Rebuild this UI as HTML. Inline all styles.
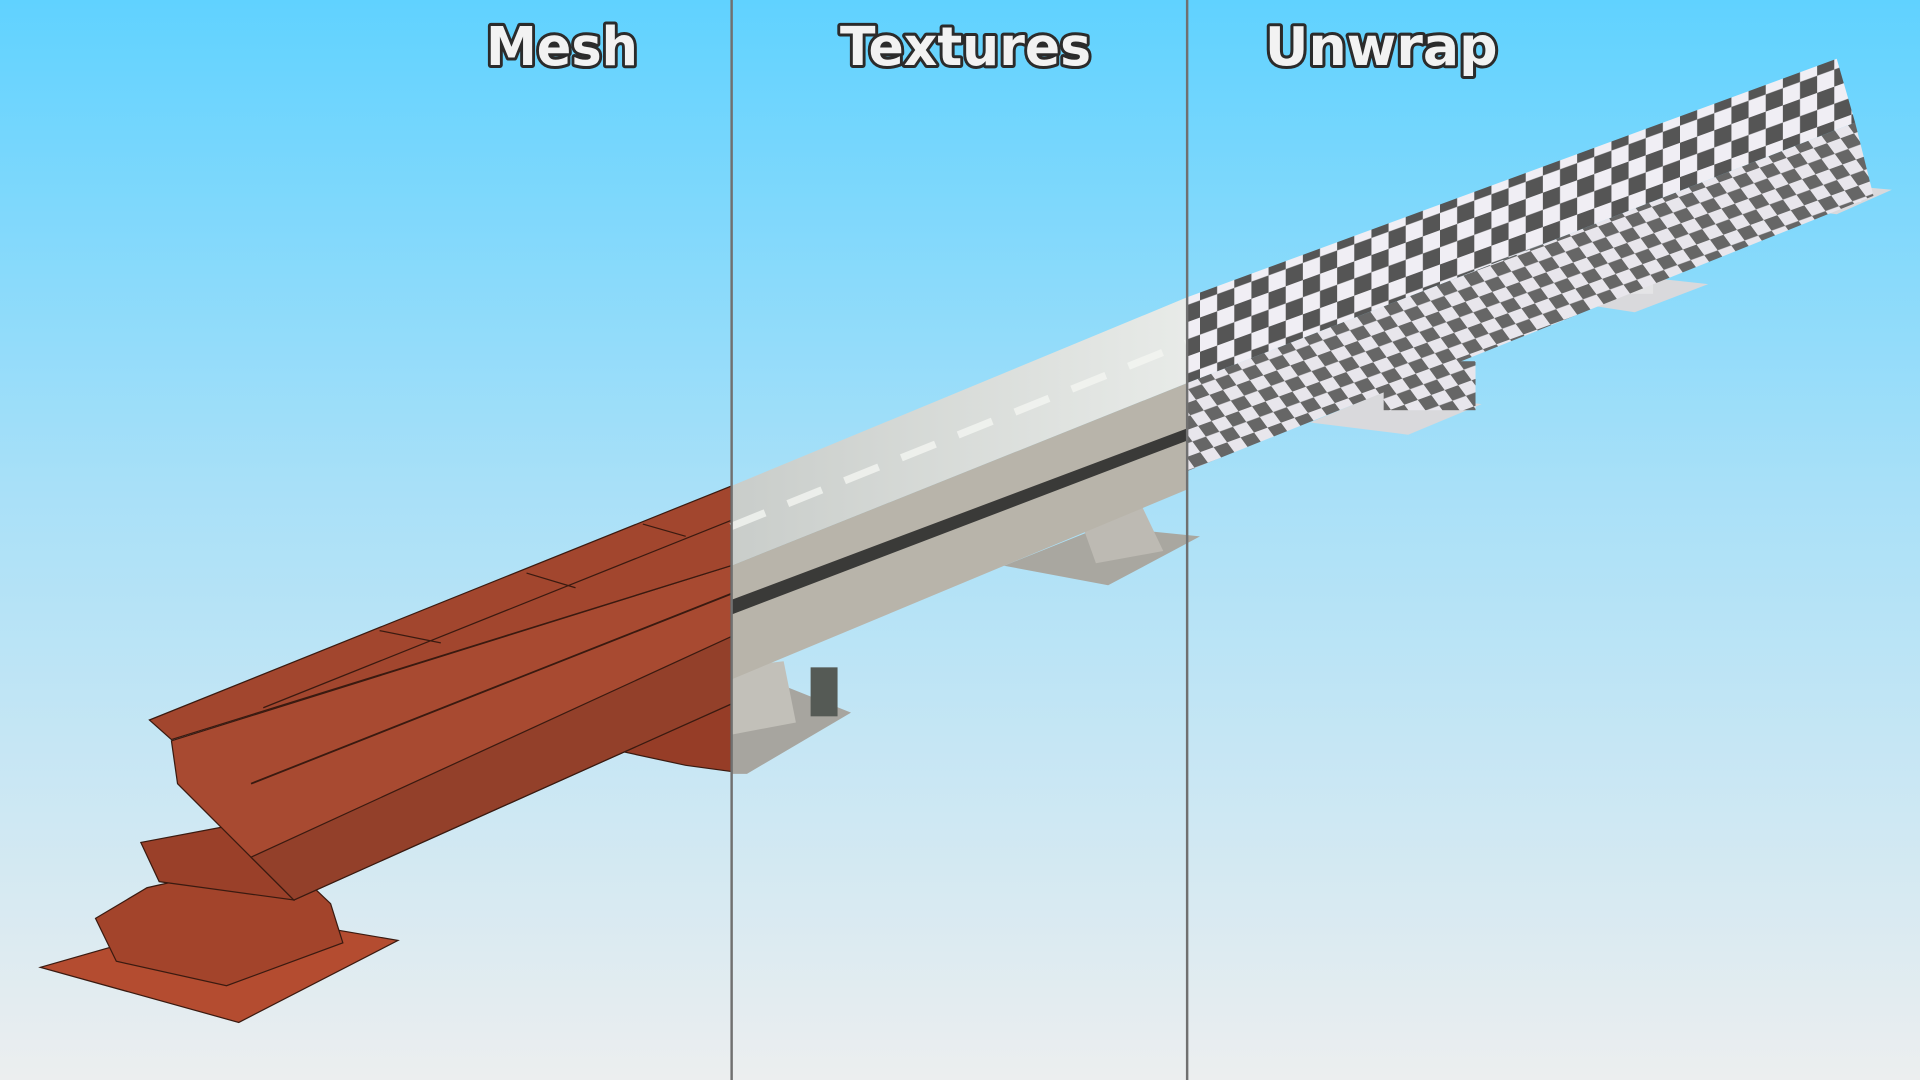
<!DOCTYPE html>
<html><head><meta charset="utf-8"><style>
html,body{margin:0;padding:0;width:1920px;height:1080px;overflow:hidden}
svg{display:block}
</style></head><body>
<svg width="1920" height="1080" viewBox="0 0 1568 882" preserveAspectRatio="none" xmlns="http://www.w3.org/2000/svg">
<defs>
<linearGradient id="bg" x1="0" y1="0" x2="0" y2="1">
<stop offset="0" stop-color="#60d2ff"/>
<stop offset="0.45" stop-color="#a8e0f8"/>
<stop offset="1" stop-color="#eceeef"/>
</linearGradient>
<pattern id="chk" width="28" height="28" patternUnits="userSpaceOnUse" patternTransform="skewY(-20)">
<rect width="28" height="28" fill="#f0eef4"/>
<rect width="14" height="14" fill="#555"/>
<rect x="14" y="14" width="14" height="14" fill="#555"/>
</pattern>
<pattern id="chk2" width="22" height="22" patternUnits="userSpaceOnUse" patternTransform="skewY(-20) skewX(30)">
<rect width="22" height="22" fill="#e8e6ec"/>
<rect width="11" height="11" fill="#666"/>
<rect x="11" y="11" width="11" height="11" fill="#666"/>
</pattern>
<linearGradient id="texTop" x1="0" y1="0" x2="1" y2="0">
<stop offset="0" stop-color="#c9cdca"/><stop offset="1" stop-color="#e8ebe8"/>
</linearGradient>
</defs>
<rect width="1568" height="882" fill="url(#bg)"/>

<!-- MESH -->
<polygon points="33,790 190,745 325,768 195,835" fill="#b44c30" stroke="#3a1a10" stroke-width="1"/>
<polygon points="78,750 120,725 230,700 270,738 280,770 185,805 95,785" fill="#a3442b" stroke="#3a1a10" stroke-width="1"/>
<polygon points="115,688 200,672 240,735 130,720" fill="#9a4029" stroke="#3a1a10" stroke-width="1"/>
<polygon points="500,612 597,575 597,630 560,625" fill="#963d27" stroke="#3a1a10" stroke-width="1"/>
<polygon points="140,605 597,462 597,575 240,735 205,700 145,640" fill="#a84a31" stroke="#3a1a10" stroke-width="1"/>
<polygon points="205,700 597,520 597,575 240,735" fill="#93402a" stroke="#3a1a10" stroke-width="1"/>
<polygon points="122,588 597,397 597,462 140,604" fill="#a2462e" stroke="#3a1a10" stroke-width="1"/>
<line x1="215" y1="578" x2="597" y2="425" stroke="#3a1a10" stroke-width="1"/>
<line x1="205" y1="640" x2="597" y2="485" stroke="#3a1a10" stroke-width="1.5"/>
<line x1="310" y1="515" x2="360" y2="525" stroke="#3a1a10"/>
<line x1="430" y1="468" x2="470" y2="480" stroke="#3a1a10"/>
<line x1="525" y1="428" x2="560" y2="438" stroke="#3a1a10"/>

<!-- TEXTURES -->
<polygon points="820,462 900,430 980,438 905,478" fill="#a9a7a0"/>
<polygon points="880,418 930,408 950,450 895,460" fill="#bdbab3"/>
<polygon points="597,580 640,560 695,582 610,632 597,632" fill="#a7a59f"/>
<polygon points="597,545 640,540 650,590 597,600" fill="#c2c0b9"/>
<rect x="662" y="545" width="22" height="40" fill="#555a55"/>
<polygon points="597,462 969,313 969,400 597,555" fill="#b8b4aa"/>
<polygon points="597,490 969,350 969,360 597,502" fill="#3a3a38"/>
<polygon points="597,397 969,243 969,313 597,462" fill="url(#texTop)"/>
<line x1="597" y1="430" x2="969" y2="280" stroke="#f4f6f2" stroke-width="6" stroke-dasharray="30 20" opacity="0.8"/>

<!-- UNWRAP -->
<polygon points="1070,345 1130,320 1210,330 1150,355" fill="#d9d9dc"/>
<polygon points="1270,245 1330,225 1395,232 1335,255" fill="#d9d9dc"/>
<polygon points="1445,168 1490,150 1545,155 1500,175" fill="#d9d9dc"/>
<rect x="1130" y="295" width="75" height="40" fill="url(#chk2)"/>
<rect x="1320" y="210" width="30" height="30" fill="#e4e4e6"/>
<rect x="1480" y="125" width="40" height="40" fill="url(#chk2)"/>
<polygon points="969,313 1515,100 1530,160 969,385" fill="url(#chk2)"/>
<polygon points="969,243 1500,48 1515,100 969,313" fill="url(#chk)"/>

<!-- dividers -->
<line x1="597.5" y1="0" x2="597.5" y2="882" stroke="#707070" stroke-width="2"/>
<line x1="969.5" y1="0" x2="969.5" y2="882" stroke="#707070" stroke-width="2"/>

<g font-family="'DejaVu Sans','Liberation Sans',sans-serif" font-weight="bold" font-size="44" fill="#f2f2f2" stroke="#2b2b2b" stroke-width="5" paint-order="stroke" stroke-linejoin="round">
<text x="397" y="53" textLength="124" lengthAdjust="spacingAndGlyphs">Mesh</text>
<text x="686" y="53" textLength="205" lengthAdjust="spacingAndGlyphs">Textures</text>
<text x="1033" y="53" textLength="190" lengthAdjust="spacingAndGlyphs">Unwrap</text>
</g>
</svg>
</body></html>
